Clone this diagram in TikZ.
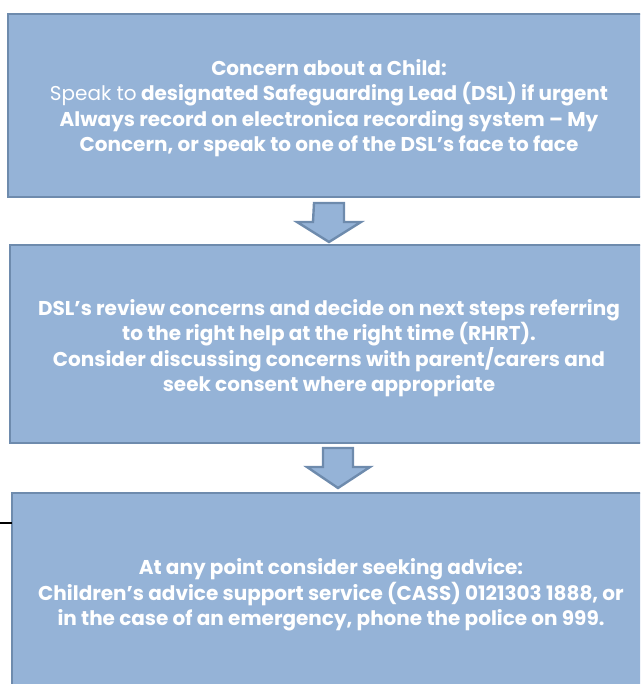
\documentclass[tikz,border=0pt]{standalone}
\usepackage{fontspec}
\setmainfont{Poppins}
\definecolor{boxfill}{HTML}{95B3D7}
\definecolor{boxline}{HTML}{6E8BAD}
\begin{document}
\begin{tikzpicture}[x=0.75pt,y=-0.75pt,
  flowbox/.style={fill=boxfill,draw=boxline,line width=2.2pt},
  blockarrow/.style={fill=boxfill,draw=boxline,line width=1.8pt,line join=miter},
  boxtext/.style={text=white,align=center,font=\fontsize{15}{19}\selectfont\bfseries,inner sep=0pt}]
\useasboundingbox (0,0) rectangle (640,684);
\clip (0,0) rectangle (640,684);
% boxes
\draw[flowbox] (8,14) rectangle (660,197);
\draw[flowbox] (10,245) rectangle (660,443);
\draw[flowbox] (12,493) rectangle (660,705);
% block arrows
\coordinate (a1) at (329,203);
\draw[blockarrow] (a1) ++(-15,0) -- ++(30,0) -- ++(0,19) -- ++(17,0) -- (329,242) -- (297,222) -- (313,222) -- cycle;
\coordinate (a2) at (338,448);
\draw[blockarrow] (a2) ++(-15,0) -- ++(30,0) -- ++(0,19) -- ++(17,0) -- (338,488) -- (307,467) -- (323,467) -- cycle;
% stray line
\coordinate (l0) at (0,523);
\coordinate (l1) at (12,523);
\draw[line width=1.2pt,black] (l0) -- (l1);
% texts
\node[boxtext] (t1) at (329,108) {Concern about a Child:\\
{\mdseries Speak to} designated Safeguarding Lead (DSL) if urgent\\
Always record on electronica recording system – My\\
Concern, or speak to one of the DSL’s face to face};
\node[boxtext] (t2) at (329,348) {DSL’s review concerns and decide on next steps referring\\
to the right help at the right time (RHRT).\\
Consider discussing concerns with parent/carers and\\
seek consent where appropriate};
\node[boxtext] (t3) at (331,595) {At any point consider seeking advice:\\
Children’s advice support service (CASS) 0121303 1888, or\\
in the case of an emergency, phone the police on 999.};
\end{tikzpicture}
\end{document}
